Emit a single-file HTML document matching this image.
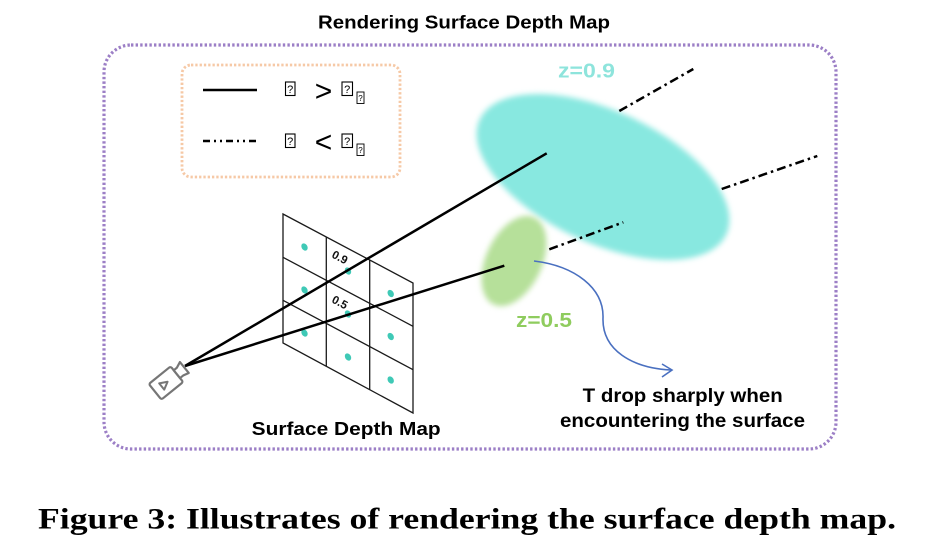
<!DOCTYPE html>
<html>
<head>
<meta charset="utf-8">
<style>
  html,body{margin:0;padding:0;background:#fff;}
  svg{display:block;}
  .sans{font-family:"Liberation Sans",sans-serif;font-weight:bold;}
  .serif{font-family:"Liberation Serif",serif;font-weight:bold;}
  .reg{font-family:"Liberation Sans",sans-serif;}
</style>
</head>
<body>
<svg width="929" height="552" viewBox="0 0 929 552" xmlns="http://www.w3.org/2000/svg">
  <defs>
    <filter id="blur" x="-20%" y="-20%" width="140%" height="140%">
      <feGaussianBlur stdDeviation="3"/>
    </filter>
  </defs>
  <rect width="929" height="552" fill="#fff"/>

  <!-- Title -->
  <text class="sans" x="318" y="28.5" font-size="18.5" textLength="292" lengthAdjust="spacingAndGlyphs" fill="#000">Rendering Surface Depth Map</text>

  <!-- Outer purple dotted rounded rect -->
  <rect x="104" y="45" width="732" height="404" rx="27" ry="27" fill="none" stroke="#9c7fc6" stroke-width="3.2" stroke-dasharray="2.4 2.2"/>

  <!-- Legend orange dotted box -->
  <rect x="182" y="65" width="218" height="112" rx="9" ry="9" fill="none" stroke="#f6c9a6" stroke-width="2.8" stroke-dasharray="2.3 2"/>
  <line x1="203" y1="90" x2="257" y2="90" stroke="#000" stroke-width="2.4"/>
  <line x1="203" y1="141" x2="257" y2="141" stroke="#000" stroke-width="2.4" stroke-dasharray="7 4 2 4 2 4"/>

  <!-- legend row 1 -->
  <rect x="285.5" y="82" width="9.5" height="13.5" fill="#fff" stroke="#000" stroke-width="1.1"/>
  <text class="reg" x="290.2" y="93" font-size="11" text-anchor="middle">?</text>
  <text class="reg" x="323.5" y="101" font-size="30" text-anchor="middle">&gt;</text>
  <rect x="342" y="82" width="10.5" height="13.5" fill="#fff" stroke="#000" stroke-width="1.1"/>
  <text class="reg" x="347.2" y="93" font-size="11" text-anchor="middle">?</text>
  <rect x="357" y="92" width="7" height="11.5" fill="#fff" stroke="#000" stroke-width="0.9"/>
  <text class="reg" x="360.5" y="101" font-size="8" text-anchor="middle">?</text>

  <!-- legend row 2 -->
  <rect x="285.5" y="134" width="9.5" height="13.5" fill="#fff" stroke="#000" stroke-width="1.1"/>
  <text class="reg" x="290.2" y="145" font-size="11" text-anchor="middle">?</text>
  <text class="reg" x="323.5" y="152" font-size="30" text-anchor="middle">&lt;</text>
  <rect x="342" y="134" width="10.5" height="13.5" fill="#fff" stroke="#000" stroke-width="1.1"/>
  <text class="reg" x="347.2" y="145" font-size="11" text-anchor="middle">?</text>
  <rect x="357" y="144" width="7" height="11.5" fill="#fff" stroke="#000" stroke-width="0.9"/>
  <text class="reg" x="360.5" y="153" font-size="8" text-anchor="middle">?</text>

  <!-- Ellipses -->
  <ellipse cx="603" cy="177" rx="136" ry="66" transform="rotate(25 603 177)" fill="#88e8e0" filter="url(#blur)"/>
  <ellipse cx="514" cy="261" rx="48" ry="28" transform="rotate(-65 514 261)" fill="#b6e09a" filter="url(#blur)"/>

  <!-- labels z -->
  <text class="sans" x="558" y="77.5" font-size="20" textLength="57" lengthAdjust="spacingAndGlyphs" fill="#8ee4dc">z=0.9</text>
  <text class="sans" x="516" y="327" font-size="20" textLength="56" lengthAdjust="spacingAndGlyphs" fill="#8fcc5e">z=0.5</text>

  <!-- Grid (surface depth map) -->
  <g stroke="#1a1a1a" stroke-width="1.3" fill="none">
    <polygon points="283,214 413,283 413,413 283,343"/>
    <line x1="326.3" y1="237" x2="326.3" y2="366"/>
    <line x1="369.7" y1="260" x2="369.7" y2="389.5"/>
    <line x1="283" y1="257.3" x2="413" y2="326.3"/>
    <line x1="283" y1="300.3" x2="413" y2="369.7"/>
  </g>

  <!-- dots -->
  <g fill="#3fc9b6">
    <ellipse cx="304.5" cy="247" rx="2.9" ry="3.9" transform="rotate(-30 304.5 247)"/>
    <ellipse cx="304.5" cy="290" rx="2.9" ry="3.9" transform="rotate(-30 304.5 290)"/>
    <ellipse cx="304.5" cy="333" rx="2.9" ry="3.9" transform="rotate(-30 304.5 333)"/>
    <ellipse cx="348" cy="271" rx="2.9" ry="3.9" transform="rotate(-30 348 271)"/>
    <ellipse cx="348" cy="314" rx="2.9" ry="3.9" transform="rotate(-30 348 314)"/>
    <ellipse cx="348" cy="357" rx="2.9" ry="3.9" transform="rotate(-30 348 357)"/>
    <ellipse cx="390.7" cy="293.5" rx="2.9" ry="3.9" transform="rotate(-30 390.7 293.5)"/>
    <ellipse cx="390.7" cy="336.5" rx="2.9" ry="3.9" transform="rotate(-30 390.7 336.5)"/>
    <ellipse cx="390.7" cy="380" rx="2.9" ry="3.9" transform="rotate(-30 390.7 380)"/>
  </g>

  <text class="sans" x="331" y="257" font-size="11.5" transform="rotate(28 331 257)" fill="#111">0.9</text>
  <text class="sans" x="331" y="302" font-size="11.5" transform="rotate(28 331 302)" fill="#111">0.5</text>

  <!-- Rays -->
  <line x1="185" y1="366" x2="546.7" y2="153.3" stroke="#000" stroke-width="2.5"/>
  <line x1="185" y1="366" x2="504.3" y2="265.7" stroke="#000" stroke-width="2.5"/>

  <!-- Dash-dot continuations -->
  <g stroke="#000" stroke-width="2.5" fill="none" stroke-dasharray="9 4 2.5 4">
    <line x1="619.3" y1="111" x2="693.3" y2="69"/>
    <line x1="721.7" y1="189" x2="817.3" y2="156"/>
    <line x1="549.3" y1="249.3" x2="623.3" y2="222.3"/>
  </g>

  <!-- Camera icon -->
  <g transform="translate(166 383) rotate(-39)" stroke="#767676" stroke-width="2.2" fill="#fff" stroke-linejoin="round">
    <rect x="-14" y="-10" width="28" height="20" rx="2"/>
    <polygon points="14,-5 18,-5 24,-7.5 24,6.5 18,5 14,5"/>
    <polygon points="-5.5,-4 -5.5,4 2,0" fill="none" stroke-width="2"/>
  </g>

  <!-- Blue curved arrow -->
  <path d="M534,261 C575,266 604,288 603,318 C602,350 632,368 671,370" fill="none" stroke="#4a70c0" stroke-width="1.6"/>
  <polyline points="662,364 672,370 662,377" fill="none" stroke="#4a70c0" stroke-width="1.6"/>

  <!-- Texts -->
  <text class="sans" x="682.7" y="402" font-size="19.5" text-anchor="middle" textLength="200" lengthAdjust="spacingAndGlyphs" fill="#000">T drop sharply when</text>
  <text class="sans" x="682.5" y="427" font-size="19.5" text-anchor="middle" textLength="245" lengthAdjust="spacingAndGlyphs" fill="#000">encountering the surface</text>
  <text class="sans" x="251.7" y="435" font-size="18.5" textLength="189" lengthAdjust="spacingAndGlyphs" fill="#000">Surface Depth Map</text>

  <!-- Caption -->
  <text class="serif" x="38" y="528.5" font-size="30" textLength="858" lengthAdjust="spacingAndGlyphs" fill="#000">Figure 3: Illustrates of rendering the surface depth map.</text>
</svg>
</body>
</html>
